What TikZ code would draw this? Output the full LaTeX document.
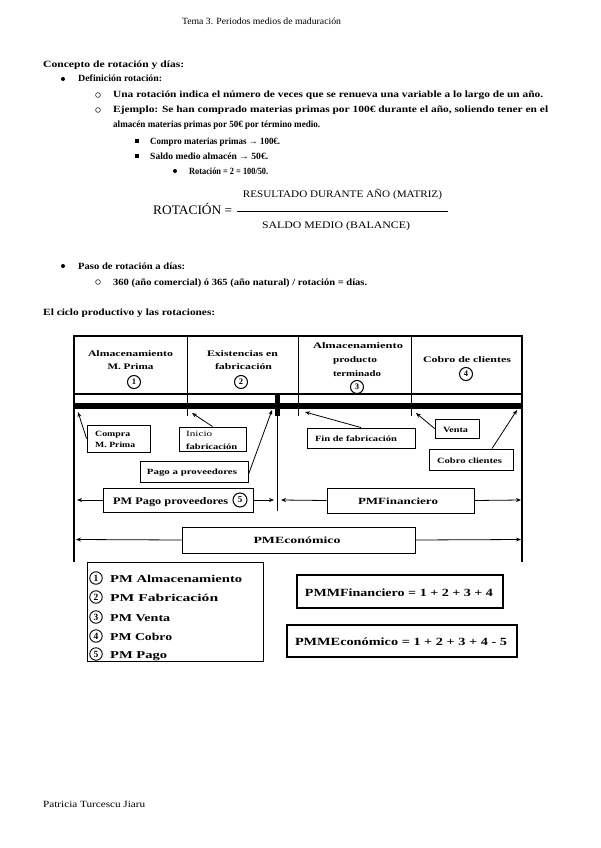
\documentclass[tikz,border=0pt]{standalone}
\usepackage{fontspec}
\setmainfont{Liberation Serif}
\usetikzlibrary{arrows.meta}
\newcommand{\fw}[2]{\resizebox{#1pt}{\height}{#2}}
\begin{document}
\begin{tikzpicture}[x=1pt,y=-1pt,
  every node/.style={inner sep=0pt},
  bt/.style={anchor=base west, font=\bfseries\fontsize{9.5}{11}\selectfont},
  rt/.style={font=\fontsize{9.5}{11}\selectfont},
  dbull/.style={circle, fill, minimum size=4pt},
  obull/.style={circle, draw, line width=0.5pt, minimum size=4.8pt},
  sbull/.style={rectangle, fill, minimum size=3.8pt},
  bx/.style={draw, line width=0.9pt},
  ct/.style={anchor=base, font=\bfseries\fontsize{8.5}{10}\selectfont},
  st/.style={anchor=base west, font=\bfseries\fontsize{8}{10}\selectfont},
  cnum/.style={circle, draw, line width=1pt, minimum size=13pt, font=\bfseries\fontsize{8.5}{10}\selectfont},
  lnum/.style={circle, draw, line width=0.9pt, minimum size=12.5pt, font=\bfseries\fontsize{9.5}{10}\selectfont},
  lt/.style={anchor=base west, font=\bfseries\fontsize{10.5}{12}\selectfont},
  arr/.style={-{Stealth[length=5pt,width=4pt]}, line width=0.8pt},
]
\useasboundingbox (0,0) rectangle (600,848);
\fill[white] (0,0) rectangle (600,848);

% header / footer
\node[rt, anchor=base] (hdr) at (261.5,24.5) {\fw{159}{Tema 3. Periodos medios de maduración}};
\node[rt, anchor=base west] (ftr) at (43,807) {\fw{102}{Patricia Turcescu Jiaru}};

% body text
\node[bt] (c1) at (43,68) {\fw{141}{Concepto de rotación y días:}};
\node[dbull] (b1) at (63,79) {};
\node[bt] (c2) at (78,82) {\fw{84}{Definición rotación:}};
\node[obull] (b2) at (98,95) {};
\node[bt] (c3) at (113,98) {\fw{430}{Una rotación indica el número de veces que se renueva una variable a lo largo de un año.}};
\node[obull] (b3) at (98,110) {};
\node[bt] (c4) at (113,113) {\fw{435}{Ejemplo: Se han comprado materias primas por 100€ durante el año, soliendo tener en el}};
\node[bt] (c5) at (113,128) {\fw{207}{almacén materias primas por 50€ por término medio.}};
\node[sbull] (b4) at (137,141) {};
\node[bt] (c6) at (150,144) {\fw{130}{Compro materias primas → 100€.}};
\node[sbull] (b5) at (137,156) {};
\node[bt] (c7) at (150,159) {\fw{118}{Saldo medio almacén → 50€.}};
\node[dbull] (b6) at (175,171) {};
\node[bt] (c8) at (189,174) {\fw{79}{Rotación = 2 = 100/50.}};

% formula
\node[anchor=base west, font=\fontsize{13}{15}\selectfont] (rot) at (153,214) {\fw{79}{ROTACIÓN =}};
\node[anchor=base, font=\fontsize{10}{12}\selectfont] (num) at (342.5,197) {\fw{199}{RESULTADO DURANTE AÑO (MATRIZ)}};
\node[anchor=base, font=\fontsize{10}{12}\selectfont] (den) at (336,228) {\fw{148}{SALDO MEDIO (BALANCE)}};
\coordinate (fl1) at (237,211);
\coordinate (fl2) at (448,211);
\draw[line width=0.8pt] (fl1) -- (fl2);

\node[dbull] (b7) at (63,266) {};
\node[bt] (c9) at (78,269) {\fw{107}{Paso de rotación a días:}};
\node[obull] (b8) at (98,282) {};
\node[bt] (c10) at (113,285) {\fw{254}{360 (año comercial) ó 365 (año natural) / rotación = días.}};
\node[bt] (c11) at (43,315) {\fw{172}{El ciclo productivo y las rotaciones:}};

% ---------- diagram frame ----------
\draw[line width=1.2pt] (74,336) rectangle (522,394);
\draw[line width=1.2pt] (74,394) -- (74,562);
\draw[line width=1.2pt] (522,394) -- (522,562);
\draw[line width=1pt] (187,336) -- (187,416);
\draw[line width=1pt] (298.5,336) -- (298.5,416);
\draw[line width=1pt] (411,336) -- (411,416);
\fill (74,403) rectangle (522,408.5);
\fill (275,394) rectangle (280,416);
\draw[line width=1pt] (277.5,416) -- (277.5,511);

% cell texts
\node[ct] (k1a) at (130.5,356) {\fw{85}{Almacenamiento}};
\node[ct] (k1b) at (130.5,369) {\fw{46}{M. Prima}};
\node[cnum] (n1) at (134,382) {1};
\node[ct] (k2a) at (242.5,356) {\fw{71}{Existencias en}};
\node[ct] (k2b) at (243.5,369) {\fw{57}{fabricación}};
\node[cnum] (n2) at (241,382) {2};
\node[ct] (k3a) at (358,348) {\fw{90}{Almacenamiento}};
\node[ct] (k3b) at (355,362) {\fw{44}{producto}};
\node[ct] (k3c) at (357,376) {\fw{48}{terminado}};
\node[cnum] (n3) at (357,387) {3};
\node[ct] (k4a) at (467,362) {\fw{88}{Cobro de clientes}};
\node[cnum] (n4) at (466,374) {4};

% event boxes
\node[bx, minimum width=63pt, minimum height=27pt] (compra) at (118.5,438.5) {};
\node[st] (compraA) at (95,436) {\fw{35}{Compra}};
\node[st] (compraB) at (95,447.5) {\fw{40}{M. Prima}};
\node[bx, minimum width=67pt, minimum height=24pt] (inicio) at (212.5,439) {};
\node[st, font=\fontsize{8}{10}\selectfont] (inicioA) at (186,436) {\fw{26}{Inicio}};
\node[st] (inicioB) at (186,449) {\fw{51}{fabricación}};
\node[bx, minimum width=108pt, minimum height=21pt] (pago) at (194,471.5) {};
\node[ct, font=\bfseries\fontsize{8}{10}\selectfont] (pagoT) at (192,474.5) {\fw{90}{Pago a proveedores}};
\node[bx, minimum width=108pt, minimum height=20pt] (fin) at (361,438) {};
\node[ct, font=\bfseries\fontsize{8}{10}\selectfont] (finT) at (356,441.5) {\fw{82}{Fin de fabricación}};
\node[bx, minimum width=44pt, minimum height=19pt] (venta) at (457,428.5) {};
\node[ct, font=\bfseries\fontsize{8}{10}\selectfont] (ventaT) at (455.5,432) {\fw{25}{Venta}};
\node[bx, minimum width=84pt, minimum height=21pt] (cobro) at (471,459.5) {};
\node[ct, font=\bfseries\fontsize{8}{10}\selectfont] (cobroT) at (469.5,463) {\fw{65}{Cobro clientes}};

\coordinate (a1) at (78,412);
\coordinate (a2) at (192,413);
\coordinate (a3) at (272,410);
\coordinate (a4) at (305,412);
\coordinate (a5) at (416,413);
\coordinate (a6) at (517,410);
\draw[arr] (compra.west) -- (a1);
\draw[arr] (inicio.north) -- (a2);
\draw[arr] ([yshift=-3pt]pago.east) -- (a3);
\draw[arr] (fin.north) -- (a4);
\draw[arr] (venta.west) -- (a5);
\draw[arr] ([xshift=21pt]cobro.north) -- (a6);

% period boxes
\node[bx, minimum width=150pt, minimum height=24pt] (pmp) at (178,500) {};
\node[lt, font=\bfseries\fontsize{10}{12}\selectfont] (pmpT) at (113,504) {\fw{115}{PM Pago proveedores}};
\node[cnum, minimum size=14pt, font=\bfseries\fontsize{9}{10}\selectfont] (n5) at (240,500) {5};
\node[bx, minimum width=147pt, minimum height=25pt] (pmf) at (400.5,500.5) {};
\node[ct, font=\bfseries\fontsize{9.5}{11}\selectfont] (pmfT) at (398,504) {\fw{80}{PMFinanciero}};
\node[bx, minimum width=233pt, minimum height=26pt] (pme) at (298.5,540) {};
\node[ct, font=\bfseries\fontsize{9.5}{11}\selectfont] (pmeT) at (297,543.5) {\fw{87}{PMEconómico}};
\coordinate (r1) at (77,500);
\coordinate (r2) at (274,500);
\coordinate (r3) at (281,500);
\coordinate (r4) at (521,500);
\coordinate (r5) at (76,539.5);
\coordinate (r6) at (521,539.5);
\draw[arr] (pmp.west) -- (r1);
\draw[arr] (pmp.east) -- (r2);
\draw[arr] (pmf.west) -- (r3);
\draw[arr] (pmf.east) -- (r4);
\draw[arr] (pme.west) -- (r5);
\draw[arr] (pme.east) -- (r6);

% legend
\node[draw, line width=1pt, minimum width=176pt, minimum height=99pt] (leg) at (175,611.5) {};
\node[lnum] (l1) at (96,578) {1};
\node[lt] (l1t) at (110,582) {\fw{132}{PM Almacenamiento}};
\node[lnum] (l2) at (96,597) {2};
\node[lt] (l2t) at (110,601) {\fw{108}{PM Fabricación}};
\node[lnum] (l3) at (96,617) {3};
\node[lt] (l3t) at (110,621) {\fw{60}{PM Venta}};
\node[lnum] (l4) at (96,636) {4};
\node[lt] (l4t) at (110,640) {\fw{62}{PM Cobro}};
\node[lnum] (l5) at (96,654) {5};
\node[lt] (l5t) at (110,658) {\fw{57}{PM Pago}};

% formula boxes
\node[draw, line width=1.8pt, minimum width=206pt, minimum height=33pt] (mf) at (400,591.5) {};
\node[anchor=base, font=\bfseries\fontsize{11}{13}\selectfont] (mfT) at (399,596) {\fw{188}{PMMFinanciero = 1 + 2 + 3 + 4}};
\node[draw, line width=1.8pt, minimum width=230pt, minimum height=32pt] (me) at (402,641) {};
\node[anchor=base, font=\bfseries\fontsize{11}{13}\selectfont] (meT) at (401,645) {\fw{212}{PMMEconómico = 1 + 2 + 3 + 4 - 5}};
\end{tikzpicture}
\end{document}
